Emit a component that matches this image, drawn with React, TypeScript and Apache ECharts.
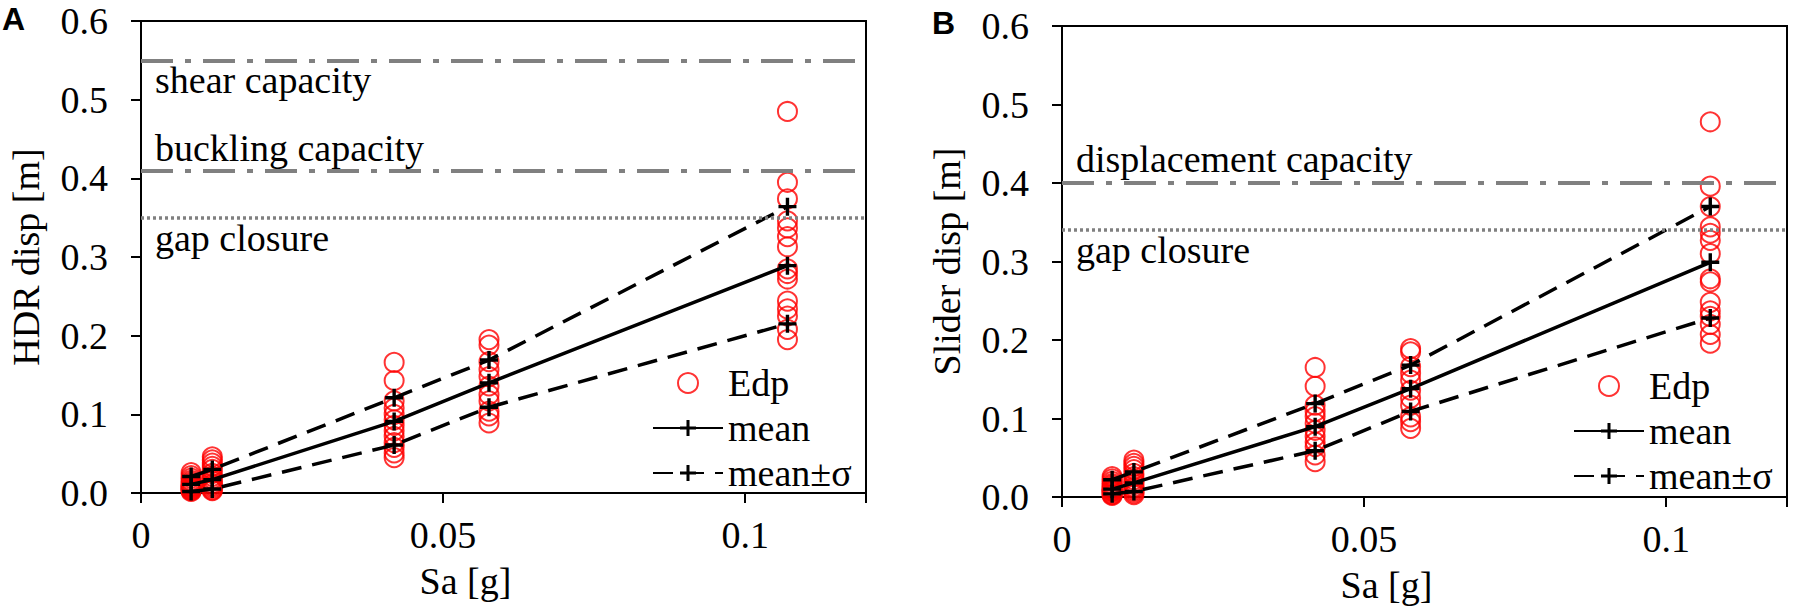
import React, { useEffect, useRef } from 'react';
import * as echarts from 'echarts';

// ---- Panel A (HDR) ----
const saA = [0.0083, 0.0118, 0.0419, 0.0576, 0.107];
const edpA1 = [0.002, 0.003, 0.004, 0.005, 0.006, 0.007, 0.008, 0.009, 0.010, 0.012, 0.014, 0.016, 0.019, 0.022, 0.026];
const edpA2 = [0.003, 0.004, 0.006, 0.008, 0.010, 0.012, 0.015, 0.018, 0.021, 0.025, 0.030, 0.034, 0.038, 0.042, 0.046];
const edpA3 = [0.166, 0.143, 0.117, 0.108, 0.100, 0.093, 0.086, 0.079, 0.072, 0.064, 0.058, 0.051, 0.045];
const edpA4 = [0.195, 0.188, 0.167, 0.157, 0.148, 0.136, 0.125, 0.117, 0.104, 0.098, 0.089];
const edpA5 = [0.485, 0.395, 0.374, 0.346, 0.337, 0.326, 0.313, 0.285, 0.279, 0.272, 0.244, 0.234, 0.225, 0.208, 0.195];
const meanA = [0.011, 0.017, 0.091, 0.140, 0.289];
const upperA = [0.021, 0.030, 0.121, 0.169, 0.364];
const lowerA = [0.002, 0.005, 0.061, 0.109, 0.215];
const shearA = 0.547;
const bucklingA = 0.407;
const gapA = 0.349;

// ---- Panel B (Slider) ----
const saB = [0.0083, 0.0119, 0.0419, 0.0577, 0.1073];
const edpB1 = [0.002, 0.003, 0.004, 0.006, 0.007, 0.008, 0.009, 0.010, 0.011, 0.013, 0.015, 0.017, 0.020, 0.023, 0.026];
const edpB2 = [0.003, 0.005, 0.007, 0.009, 0.011, 0.013, 0.016, 0.019, 0.022, 0.026, 0.030, 0.035, 0.039, 0.043, 0.047];
const edpB3 = [0.165, 0.141, 0.117, 0.109, 0.1025, 0.094, 0.085, 0.077, 0.070, 0.064, 0.0535, 0.045];
const edpB4 = [0.189, 0.185, 0.166, 0.1575, 0.149, 0.136, 0.126, 0.117, 0.102, 0.096, 0.0875];
const edpB5 = [0.478, 0.396, 0.370, 0.344, 0.336, 0.327, 0.310, 0.278, 0.274, 0.248, 0.237, 0.230, 0.220, 0.207, 0.196];
const meanB = [0.010, 0.018, 0.0896, 0.138, 0.299];
const upperB = [0.022, 0.032, 0.119, 0.168, 0.370];
const lowerB = [0.004, 0.007, 0.059, 0.109, 0.228];
const dispCapB = 0.400;
const gapB = 0.340;

const yTicks = ['0.0', '0.1', '0.2', '0.3', '0.4', '0.5', '0.6'];
const xTickLabels: Record<string, string> = { '0': '0', '0.05': '0.05', '0.1': '0.1' };

const FONT = '"Liberation Serif", "Times New Roman", serif';
const PLUS = 'path://M-1.7,-9 L1.7,-9 L1.7,-1.7 L9,-1.7 L9,1.7 L1.7,1.7 L1.7,9 L-1.7,9 L-1.7,1.7 L-9,1.7 L-9,-1.7 L-1.7,-1.7 Z';

function colsToPoints(xs: number[], cols: number[][]) {
  const pts: number[][] = [];
  cols.forEach((c, i) => c.forEach((v) => pts.push([xs[i], v])));
  return pts;
}
function zip(xs: number[], ys: number[]) {
  return xs.map((x, i) => [x, ys[i]]);
}

const dashDot = { color: '#808080', width: 4, type: [32, 12, 6, 12] as any };
const dotted = { color: '#808080', width: 3.5, type: [3, 3] as any };
const textBase = { fontFamily: FONT, fontSize: 38, color: '#000' };

function xAxisCfg(idx: number) {
  return {
    type: 'value', gridIndex: idx, min: 0, max: 0.12, interval: 0.05,
    name: 'Sa [g]', nameLocation: 'middle', nameGap: 69,
    nameTextStyle: { ...textBase, padding: [0, 76, 0, 0] },
    axisLine: { show: true, lineStyle: { color: '#000', width: 2 } },
    axisTick: { show: true, inside: false, length: 10, lineStyle: { color: '#000', width: 2 } },
    axisLabel: {
      ...textBase, margin: 23,
      formatter: (v: number) => {
        const k = String(Math.round(v * 1000) / 1000);
        return xTickLabels[k] ?? '';
      },
    },
    splitLine: { show: false },
  };
}
function yAxisCfg(idx: number, name: string) {
  return {
    type: 'value', gridIndex: idx, min: 0, max: 0.6, interval: 0.1,
    name, nameLocation: 'middle', nameGap: 96, nameRotate: 90,
    nameTextStyle: { ...textBase },
    axisLine: { show: true, lineStyle: { color: '#000', width: 2 } },
    axisTick: { show: true, inside: false, length: 10, lineStyle: { color: '#000', width: 2 } },
    axisLabel: { ...textBase, margin: 33, formatter: (v: number) => yTicks[Math.round(v * 10)] ?? '' },
    splitLine: { show: false },
  };
}

function markLineItem(y: number, style: any, text: string, position: string, dist: number[]) {
  return {
    yAxis: y,
    lineStyle: style,
    label: { show: true, formatter: text, position, distance: dist, ...textBase },
  };
}

function panelSeries(idx: number, xs: number[], cols: number[][], mean: number[], upper: number[], lower: number[], lines: any[]) {
  return [
    {
      name: 'Edp', type: 'scatter', xAxisIndex: idx, yAxisIndex: idx,
      data: colsToPoints(xs, cols), symbol: 'circle', symbolSize: 19,
      itemStyle: { color: 'rgba(0,0,0,0)', borderColor: '#f00', borderWidth: 2 },
      z: 2,
      markLine: { silent: true, symbol: ['none', 'none'], data: lines },
    },
    {
      name: 'mean', type: 'line', xAxisIndex: idx, yAxisIndex: idx,
      data: zip(xs, mean), symbol: PLUS, symbolSize: 18, showSymbol: true,
      itemStyle: { color: '#000' }, lineStyle: { color: '#000', width: 3.5 }, z: 4,
    },
    {
      name: 'mean±σ', type: 'line', xAxisIndex: idx, yAxisIndex: idx,
      data: zip(xs, upper), symbol: PLUS, symbolSize: 18, showSymbol: true,
      itemStyle: { color: '#000' }, lineStyle: { color: '#000', width: 3.5, type: [20, 11] }, z: 3,
    },
    {
      name: 'mean±σ', type: 'line', xAxisIndex: idx, yAxisIndex: idx,
      data: zip(xs, lower), symbol: PLUS, symbolSize: 18, showSymbol: true,
      itemStyle: { color: '#000' }, lineStyle: { color: '#000', width: 3.5, type: [20, 11] }, z: 3,
    },
  ];
}

function legendCfg(left: number, top: number) {
  return {
    orient: 'vertical', left, top, padding: 0, itemGap: 7, itemWidth: 70, itemHeight: 20,
    data: ['Edp', 'mean', 'mean±σ'], selectedMode: false,
    textStyle: { ...textBase, lineHeight: 38 },
  };
}

export default function App() {
  const ref = useRef<HTMLDivElement>(null);
  useEffect(() => {
    if (!ref.current) return;
    const chart = echarts.init(ref.current, undefined, { renderer: 'svg' });
    const linesA = [
      markLineItem(shearA, dashDot, 'shear capacity', 'insideStartBottom', [14, 1]),
      markLineItem(bucklingA, dashDot, 'buckling capacity', 'insideStartTop', [14, 3]),
      markLineItem(gapA, dotted, 'gap closure', 'insideStartBottom', [14, 1]),
    ];
    const linesB = [
      markLineItem(dispCapB, dashDot, 'displacement capacity', 'insideStartTop', [14, 5]),
      markLineItem(gapB, dotted, 'gap closure', 'insideStartBottom', [14, 1]),
    ];
    chart.setOption({
      animation: false,
      backgroundColor: '#fff',
      grid: [
        { left: 141, top: 21, width: 725, height: 472, show: true, borderColor: '#000', borderWidth: 2 },
        { left: 1062, top: 26, width: 725, height: 471, show: true, borderColor: '#000', borderWidth: 2 },
      ],
      xAxis: [xAxisCfg(0), xAxisCfg(1)],
      yAxis: [yAxisCfg(0, 'HDR disp [m]'), yAxisCfg(1, 'Slider disp [m]')],
      legend: [legendCfg(652, 364), legendCfg(1573, 367)],
      graphic: [
        { type: 'text', left: 2, top: 3, style: { text: 'A', fontFamily: '"Liberation Sans", Arial, sans-serif', fontWeight: 'bold', fontSize: 32, fill: '#000' } },
        { type: 'text', left: 932, top: 7, style: { text: 'B', fontFamily: '"Liberation Sans", Arial, sans-serif', fontWeight: 'bold', fontSize: 32, fill: '#000' } },
      ],
      series: [
        ...panelSeries(0, saA, [edpA1, edpA2, edpA3, edpA4, edpA5], meanA, upperA, lowerA, linesA),
        ...panelSeries(1, saB, [edpB1, edpB2, edpB3, edpB4, edpB5], meanB, upperB, lowerB, linesB),
      ],
    });
    return () => chart.dispose();
  }, []);
  return <div ref={ref} style={{ position: 'absolute', left: 0, top: 0, width: 1797, height: 612 }} />;
}
